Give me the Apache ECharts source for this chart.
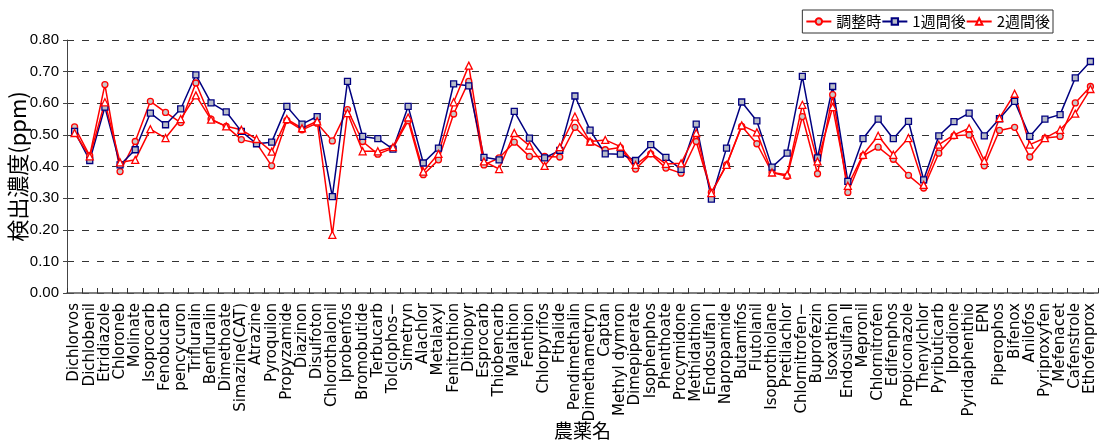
<!DOCTYPE html>
<html>
<head>
<meta charset="utf-8">
<script src="https://cdn.jsdelivr.net/npm/echarts@6/dist/echarts.min.js"></script>
<style>
  html, body { margin: 0; padding: 0; background: #fff; }
  #chart { width: 1099px; height: 441px; }
</style>
</head>
<body>
<div id="chart"></div>
<script>
// Pesticide names (x categories)
const pesticides = [
  'Dichlorvos', 'Dichlobenil', 'Etridiazole', 'Chloroneb', 'Molinate', 'Isoprocarb',
  'Fenobucarb', 'pencycuron', 'Trifluralin', 'Benfluralin', 'Dimethoate', 'Simazine(CAT)',
  'Atrazine', 'Pyroquilon', 'Propyzamide', 'Diazinon', 'Disulfoton', 'Chlorothalonil',
  'Iprobenfos', 'Bromobutide', 'Terbucarb', 'Tolclophos−', 'Simetryn', 'Alachlor',
  'Metalaxyl', 'Fenitrothion', 'Dithiopyr', 'Esprocarb', 'Thiobencarb', 'Malathion',
  'Fenthion', 'Chlorpyrifos', 'Fthalide', 'Pendimethalin', 'Dimethametryn', 'Captan',
  'Methyl dymron', 'Dimepiperate', 'Isophenphos', 'Phenthoate', 'Procymidone', 'Methidathion',
  'Endosulfan Ⅰ', 'Napropamide', 'Butamifos', 'Flutolanil', 'Isoprothiolane', 'Pretilachlor',
  'Chlornitrofen−', 'Buprofezin', 'Isoxathion', 'Endosulfan Ⅱ', 'Mepronil', 'Chlornitrofen',
  'Edifenphos', 'Propiconazole', 'Thenylchlor', 'Pyributicarb', 'Iprodione', 'Pyridaphenthio',
  'EPN', 'Piperophos', 'Bifenox', 'Anilofos', 'Pyriproxyfen', 'Mefenacet',
  'Cafenstrole', 'Ethofenprox'
];

// Detected concentration (ppm) at preparation
const atPreparation = [
  0.525, 0.434, 0.659, 0.384, 0.479, 0.606, 0.571, 0.539, 0.664, 0.550,
  0.527, 0.485, 0.474, 0.402, 0.546, 0.516, 0.537, 0.481, 0.580, 0.479,
  0.439, 0.458, 0.545, 0.374, 0.421, 0.566, 0.669, 0.405, 0.427, 0.477,
  0.432, 0.432, 0.430, 0.524, 0.477, 0.453, 0.460, 0.392, 0.440, 0.395,
  0.379, 0.479, 0.318, 0.405, 0.527, 0.472, 0.381, 0.369, 0.558, 0.377,
  0.627, 0.318, 0.434, 0.461, 0.423, 0.372, 0.332, 0.442, 0.497, 0.500,
  0.402, 0.514, 0.524, 0.430, 0.490, 0.495, 0.601, 0.653
];

// After one week
const afterOneWeek = [
  0.511, 0.419, 0.588, 0.405, 0.453, 0.569, 0.532, 0.582, 0.690, 0.601,
  0.573, 0.511, 0.472, 0.477, 0.590, 0.534, 0.558, 0.305, 0.669, 0.495,
  0.488, 0.455, 0.590, 0.411, 0.458, 0.661, 0.655, 0.429, 0.421, 0.574,
  0.490, 0.427, 0.451, 0.623, 0.515, 0.440, 0.439, 0.419, 0.469, 0.429,
  0.391, 0.534, 0.297, 0.458, 0.604, 0.544, 0.398, 0.442, 0.685, 0.427,
  0.653, 0.353, 0.488, 0.550, 0.488, 0.543, 0.358, 0.497, 0.542, 0.569,
  0.497, 0.551, 0.606, 0.495, 0.550, 0.564, 0.680, 0.732
];

// After two weeks
const afterTwoWeeks = [
  0.506, 0.432, 0.603, 0.413, 0.421, 0.518, 0.490, 0.550, 0.625, 0.548,
  0.527, 0.516, 0.487, 0.447, 0.550, 0.521, 0.543, 0.184, 0.569, 0.448,
  0.448, 0.461, 0.555, 0.384, 0.440, 0.603, 0.719, 0.416, 0.392, 0.506,
  0.466, 0.402, 0.461, 0.558, 0.479, 0.484, 0.463, 0.405, 0.442, 0.408,
  0.410, 0.506, 0.316, 0.405, 0.530, 0.508, 0.381, 0.374, 0.595, 0.416,
  0.588, 0.339, 0.437, 0.497, 0.437, 0.490, 0.342, 0.469, 0.500, 0.521,
  0.418, 0.553, 0.630, 0.469, 0.490, 0.516, 0.567, 0.645
];

const seriesNames = ['調整時', '1週間後', '2週間後'];
const yTicks = { min: 0, max: 0.8, step: 0.1 };

const cjk = '"Noto Sans CJK JP", "Noto Sans", sans-serif';

function lineSeries(name, data, color, symbol, fill, size) {
  return {
    name: name,
    type: 'line',
    data: data,
    symbol: symbol,
    symbolSize: size,
    showSymbol: true,
    lineStyle: { color: color, width: 1.5 },
    itemStyle: { color: fill, borderColor: color, borderWidth: 1.3 },
    emphasis: { disabled: true },
    animation: false
  };
}

const chart = echarts.init(document.getElementById('chart'), null, { renderer: 'canvas' });
chart.setOption({
  backgroundColor: '#ffffff',
  animation: false,
  grid: {
    left: 67, right: 1, top: 40, bottom: 148,
    containLabel: false,
    outerBoundsMode: 'none'
  },
  legend: {
    data: seriesNames,
    right: 46,
    top: 10,
    orient: 'horizontal',
    itemWidth: 25,
    itemHeight: 8,
    itemGap: 0,
    padding: [4, 3, 4, 3],
    borderColor: '#333',
    borderWidth: 1,
    backgroundColor: '#fff',
    textStyle: { fontFamily: cjk, fontSize: 15, color: '#000' }
  },
  xAxis: {
    type: 'category',
    data: pesticides,
    boundaryGap: true,
    name: '農薬名',
    nameLocation: 'middle',
    nameGap: 128,
    nameMoveOverlap: false,
    nameTextStyle: { fontFamily: cjk, fontSize: 19, color: '#000' },
    axisLine: { show: true, lineStyle: { color: '#555', width: 1.5 } },
    axisTick: { show: true, inside: true, length: 5, lineStyle: { color: '#333' } },
    axisLabel: {
      interval: 0,
      rotate: 90,
      margin: 10,
      fontFamily: '"DejaVu Sans", sans-serif',
      fontSize: 15,
      color: '#000'
    },
    splitLine: { show: false }
  },
  yAxis: {
    type: 'value',
    min: yTicks.min,
    max: yTicks.max,
    interval: yTicks.step,
    name: '検出濃度(ppm)',
    nameLocation: 'middle',
    nameGap: 49,
    nameMoveOverlap: false,
    nameTextStyle: {
      fontFamily: cjk, fontSize: 22, color: '#000',
      align: 'center', verticalAlign: 'middle'
    },
    axisLine: { show: true, lineStyle: { color: '#444', width: 1 } },
    axisTick: { show: true, inside: false, length: 4, lineStyle: { color: '#444' } },
    axisLabel: {
      margin: 8,
      fontFamily: '"Liberation Sans Narrow", "Liberation Sans", sans-serif',
      fontSize: 15,
      color: '#000',
      formatter: v => v.toFixed(2)
    },
    splitLine: { show: true, lineStyle: { color: '#333', width: 1, type: [7, 8] } }
  },
  series: [
    lineSeries(seriesNames[0], atPreparation, '#ff0000', 'circle', '#c8c8c8', 6),
    lineSeries(seriesNames[1], afterOneWeek, '#000080', 'rect', '#b8bcc8', 6),
    lineSeries(seriesNames[2], afterTwoWeeks, '#ff0000', 'triangle', '#ffffff', 7)
  ]
});
</script>
</body>
</html>
